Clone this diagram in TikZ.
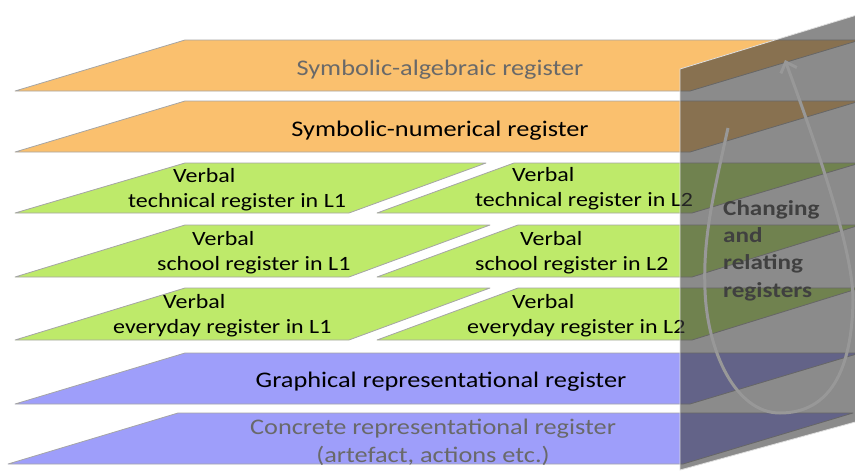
\documentclass[tikz,border=0pt]{standalone}
\usepackage{fontspec}
\setmainfont{Carlito}[FakeStretch=1.18]
\usetikzlibrary{arrows.meta}
\definecolor{orangeL}{RGB}{250,192,110}
\definecolor{greenL}{RGB}{190,234,106}
\definecolor{blueL}{RGB}{158,158,250}
\definecolor{panelC}{RGB}{61,61,61}
\definecolor{txtgray}{RGB}{105,105,105}
\definecolor{edgegray}{RGB}{165,165,165}
\definecolor{loopC}{RGB}{152,152,152}
\definecolor{chgC}{RGB}{64,64,64}
\begin{document}
\begin{tikzpicture}[x=1pt,y=-1pt,
  layer/.style={draw=edgegray, line width=0.8pt, line join=round},
  mainlbl/.style={anchor=base, inner sep=0pt, align=center, font=\fontsize{22.3}{28}\selectfont},
  verblbl/.style={anchor=base west, inner sep=0pt, align=left, font=\fontsize{20.3}{25}\selectfont},
  panel/.style={fill=panelC, fill opacity=0.6, draw=white!75!gray, line width=0.8pt},
  loopline/.style={draw=loopC, line width=3pt, -{Straight Barb[length=9pt,width=17pt]}},
  chglbl/.style={anchor=base west, inner sep=0pt, align=left, text=chgC, font=\bfseries\fontsize{21.3}{27.3}\selectfont}]
\useasboundingbox (0,0) rectangle (855,471);
\begin{scope}
\clip (0,0) rectangle (855,471);
% orange layers
\path[layer, fill=orangeL] (15,91) -- (185,40) -- (860,40) -- (690,91) -- cycle;
\path[layer, fill=orangeL] (15,152) -- (185,101) -- (860,101) -- (690,152) -- cycle;
% green layers, L1 and L2 pieces
\path[layer, fill=greenL] (15,213) -- (185,163) -- (486,163) -- (349,213) -- cycle;
\path[layer, fill=greenL] (377,213) -- (514,163) -- (860,163) -- (692,213) -- cycle;
\path[layer, fill=greenL] (15,277) -- (185,225) -- (490,225) -- (349,277) -- cycle;
\path[layer, fill=greenL] (377,277) -- (518,225) -- (860,225) -- (692,277) -- cycle;
\path[layer, fill=greenL] (15,340) -- (185,288) -- (490,288) -- (349,340) -- cycle;
\path[layer, fill=greenL] (377,340) -- (518,288) -- (860,288) -- (692,340) -- cycle;
% blue layers
\path[layer, fill=blueL] (15,404) -- (185,353) -- (860,353) -- (690,404) -- cycle;
\path[layer, fill=blueL] (8,464) -- (178,413) -- (853,413) -- (683,464) -- cycle;

% labels
\node[mainlbl, text=txtgray] (alg) at (440,75) {Symbolic-algebraic register};
\node[mainlbl] (num) at (440,136) {Symbolic-numerical register};
\node[verblbl] (tech1) at (128,207) {\hspace*{45pt}Verbal\\technical register in L1};
\node[verblbl] (tech2) at (475,206) {\hspace*{37pt}Verbal\\technical register in L2};
\node[verblbl] (sch1) at (157,270) {\hspace*{35pt}Verbal\\school register in L1};
\node[verblbl] (sch2) at (475,270) {\hspace*{45pt}Verbal\\school register in L2};
\node[verblbl] (every1) at (113,333) {\hspace*{50pt}Verbal\\everyday register in L1};
\node[verblbl] (every2) at (467,333) {\hspace*{45pt}Verbal\\everyday register in L2};
\node[mainlbl] (graph) at (441,387) {Graphical representational register};
\node[mainlbl, text=txtgray] (conc) at (433,462) {Concrete representational register\\(artefact, actions etc.)};

% panel
\path[panel] (680,69) -- (870,11) -- (870,418) -- (680,470) -- cycle;

% loop arrow
\coordinate (ls) at (728,128);
\coordinate (lb) at (780,413);
\coordinate (le) at (785,60);
\draw[loopline] (ls) .. controls (712,200) and (703,240) .. (705,290)
  .. controls (707,350) and (735,413) .. (lb)
  .. controls (830,413) and (852,370) .. (853,300)
  .. controls (853,250) and (818,150) .. (le);

\node[chglbl] (chg) at (723,297) {Changing\\and\\relating\\registers};
\end{scope}
\end{tikzpicture}
\end{document}
